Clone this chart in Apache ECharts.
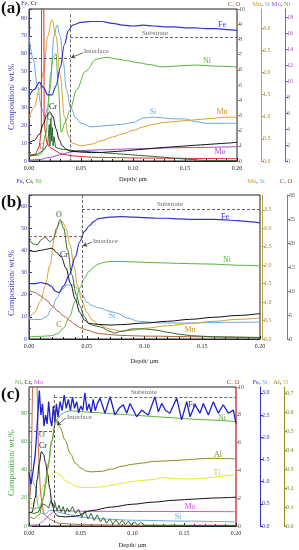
<!DOCTYPE html>
<html><head><meta charset="utf-8">
<script src="https://cdn.jsdelivr.net/npm/echarts@6/dist/echarts.min.js"></script>
<style>html,body{margin:0;padding:0;background:#fff}#c{width:299px;height:550px}</style>
</head><body><div id="c"></div>
<script>
const FONT = '"Liberation Serif","Times New Roman",serif';
const depthTicks = [0, 0.05, 0.10, 0.15, 0.20];

// ---------- Panel (a) ----------
const a_Fe = [[0,36],[0.005,40],[0.010,44],[0.014,41],[0.018,37],[0.022,37],[0.026,42],[0.030,52],[0.034,65],[0.038,73],[0.042,76],[0.050,77.5],[0.060,78],[0.070,78],[0.080,77],[0.090,76],[0.100,75.5],[0.110,76],[0.120,75.5],[0.130,75],[0.140,75],[0.150,74.5],[0.160,74.5],[0.170,74],[0.180,74],[0.190,73.5],[0.200,73]];
const a_Cr = [[0,10],[0.005,11.5],[0.010,15],[0.014,21],[0.017,25.5],[0.020,27.5],[0.023,25],[0.026,18],[0.029,12],[0.032,8.5],[0.036,6.5],[0.040,5.5],[0.050,5],[0.060,4.7],[0.070,4.8],[0.080,5.2],[0.090,5.6],[0.100,6.1],[0.110,6.6],[0.120,7.1],[0.130,7.6],[0.140,8.0],[0.150,8.4],[0.160,8.8],[0.170,9.2],[0.180,9.6],[0.190,10.0],[0.200,10.5]];
const a_Mn = [[0,0.97],[0.005,1.21],[0.010,1.61],[0.014,2.02],[0.018,2.82],[0.022,3.19],[0.026,2.82],[0.030,1.94],[0.034,1.01],[0.038,0.56],[0.042,0.40],[0.050,0.34],[0.060,0.38],[0.070,0.46],[0.080,0.54],[0.090,0.61],[0.100,0.69],[0.110,0.77],[0.120,0.83],[0.130,0.87],[0.140,0.89],[0.150,0.91],[0.160,0.93],[0.170,0.95],[0.180,0.97],[0.190,0.99],[0.200,0.99]];
const a_Si = [[0,2.82],[0.004,2.30],[0.008,1.70],[0.012,1.20],[0.015,1.00],[0.018,1.20],[0.021,2.00],[0.024,2.82],[0.027,3.07],[0.030,2.82],[0.033,2.22],[0.036,1.61],[0.040,1.21],[0.045,0.97],[0.050,0.85],[0.060,0.77],[0.070,0.79],[0.080,0.81],[0.090,0.83],[0.100,0.87],[0.110,0.97],[0.120,0.99],[0.130,0.97],[0.140,0.95],[0.150,0.95],[0.160,0.89],[0.170,0.85],[0.180,0.85],[0.190,0.85],[0.200,0.85]];
const a_Ni = [[0,0.67],[0.008,0.67],[0.012,0.89],[0.016,3.35],[0.020,8.94],[0.023,12.96],[0.026,13.41],[0.028,9.5],[0.031,3.6],[0.035,4.9],[0.039,6.26],[0.046,8.94],[0.054,11.18],[0.065,12.74],[0.075,12.96],[0.085,12.74],[0.095,12.52],[0.105,12.29],[0.115,12.07],[0.128,11.76],[0.140,11.85],[0.160,12.0],[0.180,11.85],[0.200,11.76]];
const a_Mo = [[0,0.11],[0.010,0.18],[0.020,0.45],[0.030,0.78],[0.040,1.12],[0.050,1.30],[0.070,1.41],[0.100,1.52],[0.150,1.68],[0.200,1.79]];
const a_C = [[0,0.3],[0.006,0.4],[0.010,1.0],[0.0118,2.0],[0.0122,12],[0.0142,12],[0.0146,2.5],[0.017,1.2],[0.020,0.9],[0.025,0.7],[0.030,0.5],[0.040,0.35],[0.060,0.25],[0.100,0.2],[0.200,0.15]];
const a_O = [[0,0.4],[0.008,0.45],[0.014,0.7],[0.018,1.1],[0.0195,2.4],[0.0202,1.0],[0.021,2.8],[0.0218,1.3],[0.0225,2.2],[0.0232,1.0],[0.024,1.6],[0.0255,0.9],[0.030,0.8],[0.040,0.7],[0.060,0.6],[0.080,0.5],[0.100,0.4],[0.120,0.3],[0.140,0.18],[0.160,0.08],[0.170,0.03],[0.200,0.02]];

// ---------- Panel (b) ----------
const b_Fe = [[0,25],[0.005,25],[0.010,25.5],[0.015,25],[0.019,24],[0.023,21.5],[0.026,21],[0.030,24],[0.035,29],[0.040,37],[0.044,44],[0.048,48.5],[0.052,51],[0.056,53],[0.060,54.3],[0.070,55],[0.080,55.2],[0.090,55],[0.100,54.8],[0.110,54.5],[0.120,54.5],[0.130,54.2],[0.140,54],[0.150,54],[0.160,54],[0.170,53.8],[0.180,53.4],[0.190,53],[0.200,52.4]];
const b_Cr = [[0,40],[0.005,39.5],[0.010,40],[0.015,40.5],[0.020,41],[0.024,39],[0.028,37],[0.032,32],[0.036,25],[0.040,18],[0.044,12],[0.048,8.5],[0.052,7],[0.060,6.6],[0.070,6.3],[0.080,6.5],[0.100,7.2],[0.120,8],[0.140,8.9],[0.160,9.8],[0.180,10.6],[0.200,11.5]];
const b_Ni = [[0,1],[0.010,1.2],[0.020,1.5],[0.025,2.5],[0.030,5],[0.035,10],[0.040,17],[0.044,23],[0.048,27.5],[0.052,30.5],[0.056,32.5],[0.060,33.8],[0.065,34.6],[0.070,35],[0.080,35],[0.100,34.6],[0.120,34.3],[0.140,34],[0.160,33.8],[0.180,33.3],[0.200,33]];
const b_Mn = [[0,0.57],[0.005,0.72],[0.010,1.02],[0.014,1.44],[0.018,1.98],[0.0225,2.82],[0.026,3.12],[0.029,3.18],[0.032,3.0],[0.0355,2.55],[0.039,1.98],[0.042,1.44],[0.046,1.02],[0.050,0.72],[0.055,0.51],[0.060,0.39],[0.070,0.27],[0.080,0.21],[0.090,0.24],[0.100,0.29],[0.120,0.36],[0.140,0.42],[0.160,0.48],[0.180,0.53],[0.200,0.57]];
const b_Si = [[0,0.54],[0.005,0.53],[0.010,0.53],[0.015,0.60],[0.020,0.84],[0.024,1.11],[0.028,1.32],[0.033,1.46],[0.038,1.47],[0.0415,1.38],[0.046,1.20],[0.050,1.0],[0.055,0.90],[0.061,0.84],[0.070,0.75],[0.076,0.70],[0.085,0.57],[0.095,0.48],[0.110,0.44],[0.130,0.43],[0.150,0.44],[0.170,0.45],[0.200,0.46]];
const b_C = [[0,10.2],[0.005,9.7],[0.010,9.0],[0.015,8.1],[0.020,6.9],[0.025,5.8],[0.030,4.8],[0.035,3.9],[0.040,3.0],[0.045,2.3],[0.050,1.85],[0.060,1.15],[0.070,0.92],[0.080,0.74],[0.100,0.6],[0.150,0.46],[0.200,0.28]];
const b_O = [[0,20.8],[0.004,19.8],[0.007,19.6],[0.011,20.8],[0.014,21.2],[0.018,20.3],[0.021,20.8],[0.024,23.1],[0.027,24.9],[0.030,23.1],[0.0335,18.5],[0.037,13.4],[0.041,9.2],[0.044,6.9],[0.048,4.6],[0.052,3.2],[0.056,2.8],[0.062,2.5],[0.070,1.6],[0.074,1.25],[0.080,1.6],[0.090,2.1],[0.100,2.1],[0.110,1.85],[0.120,1.4],[0.130,1.0],[0.140,0.7],[0.160,0.46],[0.180,0.37],[0.200,0.32]];

// ---------- Panel (c) ----------
const c_Fe = [[0,1.20],[0.002,0.95],[0.004,1.25],[0.006,1.6],[0.008,2.3],[0.010,3.05],[0.0115,2.5],[0.013,2.75],[0.0145,2.25],[0.016,2.5],[0.0175,2.3],[0.019,2.8],[0.0205,2.4],[0.022,2.25],[0.0235,2.7],[0.025,2.35],[0.0265,2.75],[0.028,2.45],[0.030,2.8],[0.032,2.6],[0.034,2.95],[0.036,2.65],[0.038,2.85],[0.040,2.6],[0.042,2.9],[0.044,2.65],[0.046,2.8],[0.048,2.55],[0.050,2.7],[0.052,2.6],[0.054,3.0],[0.056,2.6],[0.058,2.75],[0.060,2.55],[0.062,2.85],[0.064,2.6],[0.066,2.75],[0.0686,2.88],[0.0734,2.54],[0.0783,2.91],[0.0831,2.50],[0.087,2.65],[0.0911,2.73],[0.0944,2.54],[0.0976,2.76],[0.101,2.6],[0.104,2.46],[0.1089,2.61],[0.112,2.55],[0.1153,2.50],[0.1217,2.91],[0.125,2.57],[0.1282,2.76],[0.132,2.6],[0.1362,2.54],[0.1427,2.88],[0.1475,2.39],[0.1524,2.80],[0.1556,2.46],[0.1604,2.73],[0.1652,2.54],[0.1684,2.76],[0.1733,2.50],[0.1781,2.80],[0.1829,2.54],[0.1877,2.73],[0.1926,2.54],[0.1974,2.61],[0.200,2.31]];
const c_Ni = [[0,13],[0.005,12.5],[0.010,13],[0.013,18],[0.016,30],[0.019,45],[0.022,60],[0.025,72],[0.028,77],[0.032,80],[0.036,81.5],[0.040,82],[0.050,81.5],[0.060,81],[0.070,80.5],[0.080,80],[0.090,79.5],[0.100,79],[0.120,78],[0.140,77],[0.160,76],[0.180,75.3],[0.200,74.3]];
const c_Cr = [[0,9],[0.003,10],[0.006,20],[0.008,33],[0.010,45],[0.012,53],[0.014,51],[0.016,45],[0.018,37],[0.020,27],[0.022,17],[0.025,9],[0.028,7],[0.035,6.5],[0.045,7],[0.060,11],[0.080,13.5],[0.100,15.5],[0.120,17],[0.140,18.3],[0.160,19.2],[0.180,20],[0.200,20.5]];
const c_Mo = [[0,0.5],[0.008,0.8],[0.012,2.5],[0.016,5],[0.020,8],[0.025,11],[0.030,11],[0.050,10.5],[0.100,10.3],[0.150,10.3],[0.200,10.2]];
const c_Si = [[0,0.75],[0.003,1.05],[0.006,0.9],[0.009,0.45],[0.012,0.28],[0.016,0.28],[0.020,0.35],[0.025,0.35],[0.030,0.3],[0.040,0.25],[0.050,0.2],[0.070,0.16],[0.100,0.13],[0.150,0.11],[0.200,0.09]];
const c_Al = [[0,0.05],[0.005,0.04],[0.010,0.06],[0.014,0.15],[0.018,0.3],[0.022,0.45],[0.026,0.56],[0.030,0.52],[0.035,0.45],[0.040,0.38],[0.045,0.33],[0.050,0.305],[0.055,0.29],[0.060,0.285],[0.070,0.288],[0.080,0.30],[0.090,0.315],[0.100,0.325],[0.110,0.332],[0.120,0.34],[0.130,0.342],[0.140,0.345],[0.150,0.348],[0.160,0.352],[0.170,0.355],[0.180,0.357],[0.190,0.355],[0.200,0.354]];
const c_Ti = [[0,0.11],[0.005,0.12],[0.010,0.16],[0.015,0.22],[0.020,0.26],[0.025,0.285],[0.030,0.27],[0.035,0.24],[0.040,0.225],[0.045,0.21],[0.050,0.203],[0.060,0.202],[0.070,0.206],[0.080,0.215],[0.090,0.225],[0.100,0.235],[0.110,0.24],[0.120,0.245],[0.130,0.255],[0.140,0.25],[0.150,0.248],[0.160,0.248],[0.170,0.252],[0.180,0.258],[0.190,0.265],[0.200,0.27]];
const c_C = [[0,1.5],[0.002,3],[0.0038,12],[0.0062,12],[0.0075,11],[0.009,5.7],[0.011,2.5],[0.014,0.9],[0.020,0.5],[0.028,0.2],[0.050,0.1],[0.100,0.05],[0.200,0.05]];
const c_O = [[0,1.0],[0.005,0.9],[0.009,1.0],[0.013,1.6],[0.016,1.5],[0.019,1.3],[0.021,1.8],[0.023,1.4],[0.025,1.7],[0.027,1.1],[0.029,1.5],[0.031,1.0],[0.033,1.4],[0.035,0.9],[0.037,1.3],[0.039,1.0],[0.042,1.4],[0.045,0.9],[0.048,1.2],[0.051,0.6],[0.054,1.1],[0.057,0.5],[0.060,0.9],[0.063,0.4],[0.066,0.8],[0.069,0.3],[0.072,0.6],[0.075,0.2],[0.078,0.5],[0.081,0.15],[0.084,0.45],[0.087,0.1],[0.090,0.4],[0.093,0.1],[0.096,0.35],[0.099,0.05],[0.102,0.3],[0.105,0.05],[0.108,0.25],[0.112,0.05],[0.150,0.04],[0.200,0.03]];

// annotation positions (data units of each left axis)
const a_interface = 0.0395, a_sub = 69.3, a_intY = 57.6;
const b_interface = 0.0459, b_sub = 58.7, b_intY = 46.5;
const c_interface = 0.0245, c_sub = 91.4, c_intY = 67.7;

const COL = {Fe:'#3535c8', Cr:'#111111', Ni:'#5ab43a', Si:'#6ea8dc', Mn:'#d9a12c', Mo:'#a04ad8', C:'#e03030', O:'#2d6a2d', Al:'#8a8a1c', Ti:'#e6e632'};

function xAx(gi, gap){
  return {type:'value', gridIndex:gi, min:0, max:0.2, interval:0.05,
    axisLine:{onZero:false, lineStyle:{color:'#222', width:1}},
    axisTick:{inside:true, length:3, lineStyle:{color:'#222'}},
    minorTick:{show:true, splitNumber:5, length:2, lineStyle:{color:'#222'}},
    splitLine:{show:false},
    axisLabel:{fontSize:6, fontFamily:FONT, color:'#222', margin:4, formatter:v=>v.toFixed(2)},
    name:'Depth/ μm', nameLocation:'middle', nameGap:gap,
    nameTextStyle:{fontSize:6.5, fontFamily:FONT, color:'#222'}};
}
function yAx(gi, pos, offset, max, interval, color, lblColor, dec, inside, showMax){
  return {type:'value', gridIndex:gi, position:pos, offset:offset, min:0, max:max, interval:interval,
    axisLine:{show:true, onZero:false, lineStyle:{color:color, width:1}},
    axisTick:{show:true, inside:inside, length:3, lineStyle:{color:color}},
    minorTick:{show:inside, splitNumber:2, length:2, lineStyle:{color:color}},
    splitLine:{show:false},
    axisLabel:{fontSize:6, fontFamily:FONT, color:lblColor, margin:2, showMaxLabel:showMax,
      formatter:v=>v.toFixed(dec)}};
}
function ln(name, data, xi, yi, color, smooth, width){
  return {name, type:'line', data, xAxisIndex:xi, yAxisIndex:yi, symbol:'none', showSymbol:false,
    smooth:smooth, smoothMonotone:'x', clip:true, animation:false, silent:true,
    lineStyle:{color, width:width||1}, itemStyle:{color}};
}
const dash = {type:[3,2], color:'#555', width:0.9};
function guides(xi, top, sub, intY, arrowFrom, arrowTo, intColor){
  return [
    {name:'g', type:'line', data:[], xAxisIndex:xi, yAxisIndex:[0,4,7][xi], silent:true,
     markLine:{silent:true, symbol:'none', animation:false, label:{show:false},
       lineStyle:dash,
       data:[
        [{coord:[ [a_interface,b_interface,c_interface][xi], top]},{coord:[[a_interface,b_interface,c_interface][xi],0]}],
        [{coord:[[a_interface,b_interface,c_interface][xi], sub]},{coord:[0.2, sub]}],
        [{coord:[0, intY], lineStyle:{type:[3,2], color:intColor, width:0.9}},{coord:[[a_interface,b_interface,c_interface][xi], intY]}]
       ]}},
    {name:'arrow', type:'line', data:[], xAxisIndex:xi, yAxisIndex:[0,4,7][xi], silent:true,
     markLine:{silent:true, symbol:['none','arrow'], symbolSize:4, animation:false, label:{show:false},
       lineStyle:{type:'solid', color:'#444', width:0.8},
       data:[[{coord:arrowFrom},{coord:arrowTo}]]}}
  ];
}

function T(x, y, text, fill, size, opts){
  return Object.assign({type:'text', x, y, silent:true, z:100,
    style:{text, fill, font:(opts&&opts.bold?'bold ':'')+size+'px '+FONT,
      textAlign:(opts&&opts.align)||'center', textVerticalAlign:'middle'}}, (opts&&opts.extra)||{});
}
function RT(x, y, parts, size){
  const rich = {}; let text = '';
  parts.forEach((p,i)=>{ rich['p'+i] = {fill:p[1], color:p[1], fontSize:size, fontFamily:FONT}; text += '{p'+i+'|'+p[0]+'}'; });
  return {type:'text', x, y, silent:true, z:100,
    style:{text, rich, fill:'#222', font:size+'px '+FONT, textAlign:'center', textVerticalAlign:'middle'}};
}

const graphics = [
  T(1, 9, '(a)', '#111', 17, {bold:true, align:'left'}),
  T(1, 203, '(b)', '#111', 17, {bold:true, align:'left'}),
  T(1, 395, '(c)', '#111', 17, {bold:true, align:'left'}),
  T(12, 97, 'Composition/ wt.%', '#3a3ac0', 8.5, {extra:{rotation:Math.PI/2}}),
  T(12, 283, 'Composition/ wt.%', '#3a3ac0', 8.5, {extra:{rotation:Math.PI/2}}),
  T(12, 463, 'Composition/ wt.%', '#3aa53a', 8.5, {extra:{rotation:Math.PI/2}}),
  // axis names
  RT(29, 3.5, [['Fe',COL.Fe],[', Cr','#222']], 6.5),
  RT(234, 4, [['C, O','#9a4a3a']], 6.5),
  RT(261, 4, [['Mn',COL.Mn],[', ','#222'],['Si',COL.Si]], 6.5),
  RT(281, 4, [['Mo',COL.Mo],[', ','#222'],['Ni',COL.Ni]], 6.5),
  RT(29, 181, [['Fe',COL.Fe],[', Cr, ','#222'],['Ni',COL.Ni]], 6.5),
  RT(256, 181, [['Mn',COL.Mn],[', ','#222'],['Si',COL.Si]], 6.5),
  RT(286, 181, [['C, O','#9a4a3a']], 6.5),
  RT(29, 382, [['Ni',COL.Ni],[', Cr, ','#222'],['Mo','#d050e0']], 6.5),
  RT(233, 382, [['C, O','#9a4a3a']], 6.5),
  RT(260, 382, [['Fe',COL.Fe],[', ','#222'],['Si',COL.Si]], 6.5),
  RT(281, 382, [['Al',COL.Al],[', ','#222'],['Ti','#c8c820']], 6.5),
  // guide texts
  T(155, 33, 'Substrate', '#666', 7),
  T(84, 51, 'Interface', '#666', 7, {align:'left'}),
  T(170, 204, 'Substrate', '#666', 7),
  T(93, 241, 'Interface', '#666', 7, {align:'left'}),
  T(144, 392, 'Substrate', '#666', 7),
  T(67, 417, 'Interface', '#666', 7, {align:'left'}),
  // series labels (a)
  T(222, 25, 'Fe', COL.Fe, 8), T(207, 61, 'Ni', COL.Ni, 8), T(153, 112, 'Si', COL.Si, 8),
  T(222, 112, 'Mn', '#c8962a', 8), T(220, 152, 'Mo', COL.Mo, 8),
  T(53, 107, 'Cr', '#111', 8), T(50, 118, 'O', COL.O, 8), T(42, 147, 'C', COL.C, 8),
  // series labels (b)
  T(59, 215, 'O', COL.O, 8), T(64, 255, 'Cr', '#111', 8), T(112, 316, 'Si', COL.Si, 8),
  T(59, 325, 'C', '#b0603a', 8), T(190, 330, 'Mn', '#c8962a', 8), T(225, 217, 'Fe', COL.Fe, 8), T(227, 260, 'Ni', COL.Ni, 8),
  // series labels (c)
  T(192, 405, 'Fe', '#2020d0', 8), T(222, 418, 'Ni', COL.Ni, 8), T(218, 455, 'Al', COL.Al, 8),
  T(217, 473, 'Ti', '#c8c820', 8), T(190, 507, 'Mo', '#d050e0', 8), T(178, 517, 'Si', COL.Si, 8),
  T(42, 435, 'O', COL.O, 8), T(43, 446, 'Cr', '#111', 8)
];

const option = {
  animation:false,
  backgroundColor:'#fff',
  textStyle:{fontFamily:FONT},
  grid:[
    {left:29, top:9, width:208, height:152, show:true, borderColor:'#222', borderWidth:1, backgroundColor:'transparent'},
    {left:29, top:195, width:231, height:144, show:true, borderColor:'#222', borderWidth:1, backgroundColor:'transparent'},
    {left:29, top:387, width:207, height:139, show:true, borderColor:'#222', borderWidth:1, backgroundColor:'transparent'}
  ],
  xAxis:[xAx(0,15), xAx(1,19), xAx(2,16)],
  yAxis:[
    yAx(0,'left',0,85,10,'#3a3ab0','#3a3ab0',0,true,false),
    yAx(0,'right',0,10,1,'#d07070','#555',0,false,true),
    yAx(0,'right',24,3.43,0.5,'#c0a040','#a08a30',1,false,false),
    yAx(0,'right',48,19,2,'#9a50d0','#8a50b0',0,false,false),
    yAx(1,'left',0,65,10,'#3a3ab0','#3a3ab0',0,true,false),
    yAx(1,'right',2,3.9,0.5,'#c0a040','#a08a30',1,false,false),
    yAx(1,'right',27,30,5,'#c06060','#555',0,false,true),
    yAx(2,'left',0,99,20,'#40b040','#40a040',0,true,false),
    yAx(2,'right',0,10,2,'#d07070','#555',0,false,true),
    yAx(2,'right',24,3.13,0.5,'#3030c0','#3030a0',1,false,false),
    yAx(2,'right',48,0.732,0.1,'#909020','#808020',1,false,false)
  ],
  series:[
    ln('Si', a_Si, 0, 2, COL.Si, 0.35),
    ln('Mn', a_Mn, 0, 2, COL.Mn, 0.35),
    ln('Ni', a_Ni, 0, 3, COL.Ni, 0.35),
    ln('Mo', a_Mo, 0, 3, COL.Mo, 0.35),
    ln('C', a_C, 0, 1, COL.C, false),
    ln('O', a_O, 0, 1, COL.O, false),
    ln('Cr', a_Cr, 0, 0, COL.Cr, 0.35),
    ln('Fe', a_Fe, 0, 0, COL.Fe, 0.35, 1.2),
    ln('Si', b_Si, 1, 5, COL.Si, 0.35),
    ln('Mn', b_Mn, 1, 5, COL.Mn, 0.35),
    ln('C', b_C, 1, 6, '#b0603a', 0.35),
    ln('O', b_O, 1, 6, COL.O, 0.35),
    ln('Ni', b_Ni, 1, 4, COL.Ni, 0.35),
    ln('Cr', b_Cr, 1, 4, COL.Cr, 0.35),
    ln('Fe', b_Fe, 1, 4, COL.Fe, 0.35, 1.2),
    ln('Si', c_Si, 2, 9, COL.Si, 0.35),
    ln('Mo', c_Mo, 2, 7, '#d050e0', 0.35),
    ln('Ti', c_Ti, 2, 10, COL.Ti, 0.35),
    ln('Al', c_Al, 2, 10, COL.Al, 0.35),
    ln('C', c_C, 2, 8, '#c06a50', false),
    ln('O', c_O, 2, 8, COL.O, false),
    ln('Cr', c_Cr, 2, 7, COL.Cr, 0.35),
    ln('Ni', c_Ni, 2, 7, COL.Ni, 0.35),
    ln('Fe', c_Fe, 2, 9, '#2020d0', false, 1.3),
    ...guides(0, 82, a_sub, a_intY, [0.052,60.5], [0.0405,57.8], '#555'),
    ...guides(1, 65, b_sub, b_intY, [0.0545,43.8], [0.0468,42], '#a04848'),
    ...guides(2, 93.3, c_sub, c_intY, [0.0357,76.9], [0.0271,71.9], '#555')
  ],
  graphic:graphics
};
const chart = echarts.init(document.getElementById('c'), null, {renderer:'canvas'});
chart.setOption(option);
</script>
</body></html>
